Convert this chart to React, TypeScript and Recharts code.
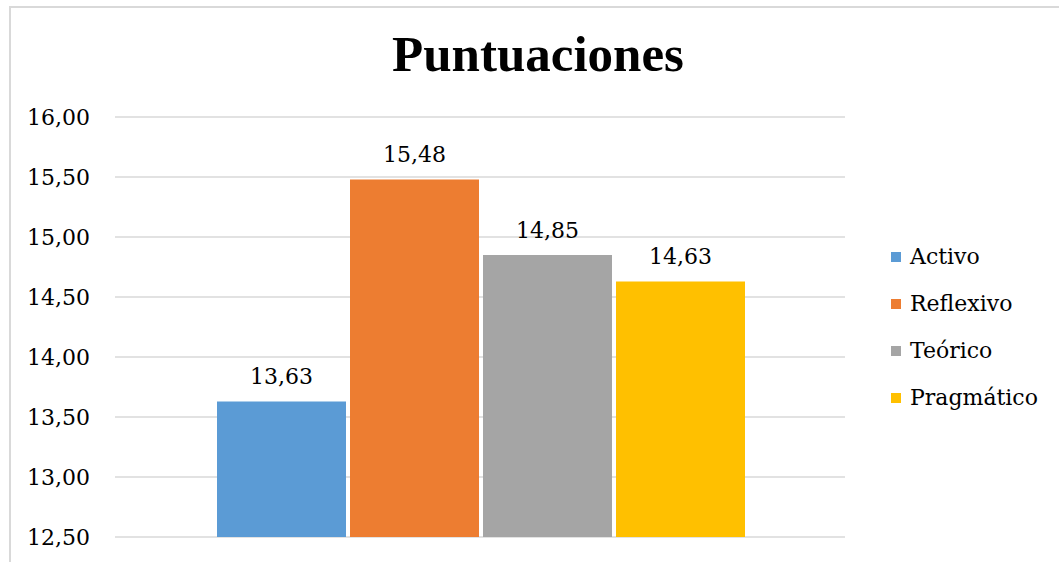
import React from 'react';
import { BarChart, Bar, XAxis, YAxis, CartesianGrid, Legend, LabelList } from 'recharts';

const seriesNames = ['Activo', 'Reflexivo', 'Teórico', 'Pragmático'];
const seriesValues = [13.63, 15.48, 14.85, 14.63];
const seriesColors = ['#5B9BD5', '#ED7D31', '#A5A5A5', '#FFC000'];
const yTicks = [12.5, 13, 13.5, 14, 14.5, 15, 15.5, 16];

const row: Record<string, any> = { name: 'Puntuaciones' };
seriesNames.forEach((n, i) => {
  row[n] = seriesValues[i];
});
const data = [row];

const FONT = '"DejaVu Serif", serif';
const TITLE_FONT = '"Liberation Serif", "Times New Roman", serif';
const fmt = (v: any) => Number(v).toFixed(2).replace('.', ',');

// keep the legend in series order (recharts sorts by name otherwise)
const LegendContent = ({ payload }: any) => {
  const items = [...(payload || [])].sort(
    (a: any, b: any) => seriesNames.indexOf(a.value) - seriesNames.indexOf(b.value)
  );
  return (
    <div style={{ fontFamily: FONT, fontSize: 22, color: '#000' }}>
      {items.map((p: any) => (
        <div key={p.value} style={{ height: 47, display: 'flex', alignItems: 'center' }}>
          <span style={{ width: 10, height: 10, background: p.color, marginRight: 9, display: 'inline-block' }} />
          <span>{p.value}</span>
        </div>
      ))}
    </div>
  );
};

export default function App() {
  return (
    <div style={{ position: 'absolute', left: 0, top: 0, width: 1059, height: 562, background: '#fff', overflow: 'hidden' }}>
      {/* chart frame, cut off at right and bottom */}
      <div
        style={{
          position: 'absolute',
          left: 9,
          top: 6,
          width: 1070,
          height: 580,
          border: '2px solid #d9d9d9',
        }}
      />
      <div
        style={{
          position: 'absolute',
          left: 0,
          width: 1076,
          top: 29,
          textAlign: 'center',
          fontFamily: TITLE_FONT,
          fontWeight: 'bold',
          fontSize: 51,
          lineHeight: '51px',
          color: '#000',
        }}
      >
        Puntuaciones
      </div>
      <div style={{ position: 'absolute', left: 0, top: 0 }}>
        <BarChart
          width={1059}
          height={562}
          data={data}
          margin={{ top: 117, right: 214, left: 0, bottom: 25 }}
          barCategoryGap={102}
          barGap={4}
        >
          <CartesianGrid vertical={false} stroke="#d9d9d9" strokeWidth={1.5} />
          <XAxis dataKey="name" hide />
          <YAxis
            width={115}
            domain={[12.5, 16]}
            ticks={yTicks}
            interval={0}
            allowDataOverflow
            axisLine={false}
            tickLine={false}
            tickSize={0}
            tickMargin={25}
            tickFormatter={fmt}
            tick={{ fontFamily: FONT, fontSize: 22, fill: '#000' }}
          />
          <Legend
            layout="vertical"
            align="center"
            verticalAlign="middle"
            content={<LegendContent />}
            wrapperStyle={{ left: 891, top: 233, width: 168 }}
          />
          {seriesNames.map((n, i) => (
            <Bar key={n} dataKey={n} fill={seriesColors[i]} isAnimationActive={false}>
              <LabelList
                dataKey={n}
                position="top"
                offset={17}
                formatter={fmt}
                style={{ fontFamily: FONT, fontSize: 22, fill: '#000' }}
              />
            </Bar>
          ))}
        </BarChart>
      </div>
    </div>
  );
}
